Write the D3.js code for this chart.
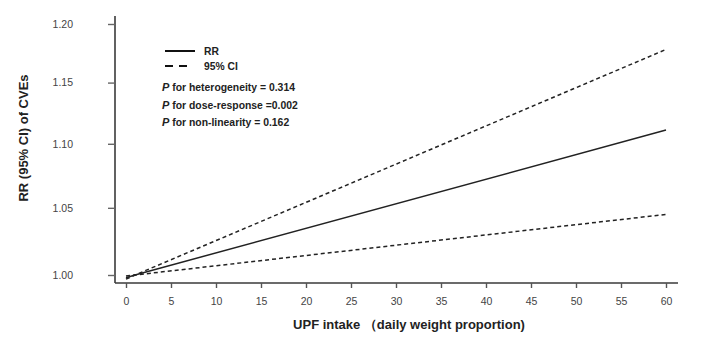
<!DOCTYPE html>
<html>
<head>
<meta charset="utf-8">
<script src="https://cdn.jsdelivr.net/npm/d3@7"></script>
<style>
  body { margin: 0; background: #fff; }
  svg { font-family: "Liberation Sans", Arial, sans-serif; }
</style>
</head>
<body>
<svg id="chart" width="703" height="343"></svg>
<script>
// dose-response values, UPF intake vs RR
var upf = [0, 1, 60];
var rr = [0.998, 1.0, 1.111];
var ciLow = [0.9992, 1.0, 1.045];
var ciHigh = [0.997, 1.0, 1.178];

var xTicks = [0, 5, 10, 15, 20, 25, 30, 35, 40, 45, 50, 55, 60];
var yTicks = [1.00, 1.05, 1.10, 1.15, 1.20];

var legendItems = [{label: 'RR', dash: null}, {label: '95% CI', dash: '8,6,8,8'}];
var pTexts = [
  {name: ' for heterogeneity = ', value: '0.314'},
  {name: ' for dose-response =', value: '0.002'},
  {name: ' for non-linearity = ', value: '0.162'}
];

var svg = d3.select('#chart');

var x = d3.scaleLinear().domain([0, 60]).range([126, 666]);
var y = d3.scaleLog().domain([1, 1.2]).range([275, 24]);

var axisColor = '#3a3a3a';

// axis frame
svg.append('line')
  .attr('x1', 115).attr('x2', 115)
  .attr('y1', 16).attr('y2', 283)
  .attr('stroke', axisColor).attr('stroke-width', 1.6);
svg.append('line')
  .attr('x1', 115).attr('x2', 678)
  .attr('y1', 283).attr('y2', 283)
  .attr('stroke', axisColor).attr('stroke-width', 1.6);

// y axis
var yAxis = svg.append('g')
  .attr('transform', 'translate(115,0)')
  .call(d3.axisLeft(y).tickValues(yTicks).tickFormat(d3.format('.2f')).tickSize(7).tickPadding(35));
yAxis.select('.domain').remove();
yAxis.selectAll('.tick line').attr('stroke', '#666').attr('stroke-width', 1.4);
yAxis.selectAll('.tick text')
  .attr('fill', '#444')
  .style('font-size', '10.5px')
  .style('font-family', '"Liberation Sans", Arial, sans-serif');

// x axis
var xAxis = svg.append('g')
  .attr('transform', 'translate(0,283)')
  .call(d3.axisBottom(x).tickValues(xTicks).tickSize(5).tickPadding(10));
xAxis.select('.domain').remove();
xAxis.selectAll('.tick line').attr('stroke', '#555').attr('stroke-width', 1.4);
xAxis.selectAll('.tick text')
  .attr('fill', '#444')
  .style('font-size', '10.5px')
  .style('font-family', '"Liberation Sans", Arial, sans-serif');

// axis titles
svg.append('text')
  .attr('x', 409).attr('y', 329)
  .attr('text-anchor', 'middle')
  .attr('fill', '#222')
  .style('font-size', '13px').style('font-weight', 'bold')
  .text('UPF intake （daily weight proportion)');

svg.append('text')
  .attr('transform', 'translate(28,138) rotate(-90)')
  .attr('text-anchor', 'middle')
  .attr('fill', '#222')
  .style('font-size', '13px').style('font-weight', 'bold')
  .text('RR (95% CI) of CVEs');

// curves
var line = d3.line()
  .x(function(d) { return x(d[0]); })
  .y(function(d) { return y(d[1]); });

var series = [
  {values: ciHigh, dash: '4,3'},
  {values: ciLow, dash: '4,3'},
  {values: rr, dash: null}
];

series.forEach(function(s) {
  svg.append('path')
    .datum(d3.zip(upf, s.values))
    .attr('d', line)
    .attr('fill', 'none')
    .attr('stroke', '#222')
    .attr('stroke-width', 1.5)
    .attr('stroke-dasharray', s.dash);
});

// legend
var legend = svg.append('g').attr('transform', 'translate(165,51)');
legendItems.forEach(function(d, i) {
  legend.append('line')
    .attr('x1', 0).attr('x2', 30)
    .attr('y1', i * 15).attr('y2', i * 15)
    .attr('stroke', '#111').attr('stroke-width', 2)
    .attr('stroke-dasharray', d.dash);
  legend.append('text')
    .attr('x', 39).attr('y', i * 15 + 3.5)
    .attr('fill', '#222')
    .style('font-size', '10.3px').style('font-weight', 'bold')
    .text(d.label);
});

// test statistics
var stats = svg.append('g').attr('transform', 'translate(162,91)');
pTexts.forEach(function(d, i) {
  var t = stats.append('text')
    .attr('y', i * 17.7)
    .attr('fill', '#222')
    .style('font-size', '10.4px').style('font-weight', 'bold');
  t.append('tspan').style('font-style', 'italic').style('font-size', '11px').text('P');
  t.append('tspan').text(d.name + d.value);
});
</script>
</body>
</html>
